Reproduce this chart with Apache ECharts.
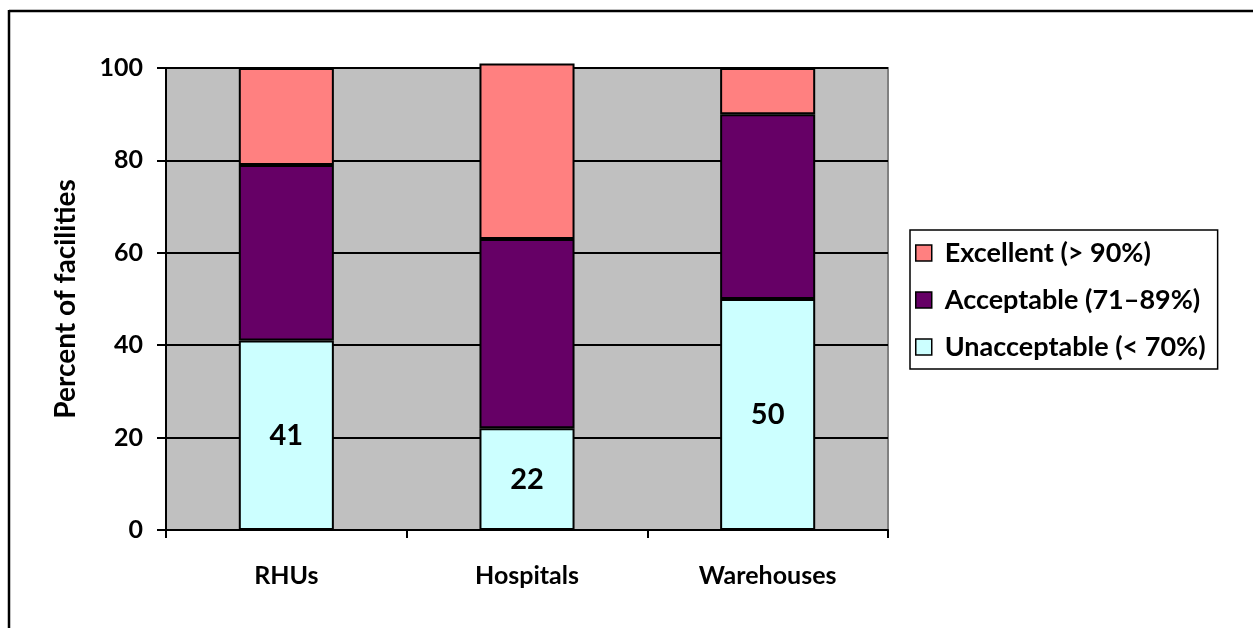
<!DOCTYPE html>
<html>
<head>
<meta charset="utf-8">
<script src="https://cdn.jsdelivr.net/npm/echarts@6/dist/echarts.min.js"></script>
<style>
  html, body { margin: 0; padding: 0; background: #fff; }
  #chart { width: 1253px; height: 628px; }
</style>
</head>
<body>
<div id="chart"></div>
<script>
// Facility types along the x axis
const categories = ['RHUs', 'Hospitals', 'Warehouses'];
// Share of facilities in each score band (percent)
const unacceptable = [41, 22, 50];
const acceptable = [38, 41, 40];
const excellent = [21, 38, 10];
// Y axis ticks
const yTicks = [0, 20, 40, 60, 80, 100];

const FONT = 'Lato, "Open Sans", sans-serif';

const chart = echarts.init(document.getElementById('chart'));

const barCommon = {
  type: 'bar',
  stack: 'total',
  barWidth: '39.5%',
  clip: false
};

chart.setOption({
  animation: false,
  backgroundColor: '#fff',
  textStyle: { fontFamily: FONT },
  grid: {
    left: 166, right: 365, top: 68, bottom: 98,
    show: true,
    backgroundColor: '#C0C0C0',
    borderColor: '#808080',
    borderWidth: 2
  },
  legend: {
    orient: 'vertical',
    left: 910, top: 230,
    padding: [8, 12, 7, 5],
    itemGap: 17,
    itemWidth: 16, itemHeight: 16,
    icon: 'rect',
    borderColor: '#000', borderWidth: 1.5,
    backgroundColor: '#fff',
    data: ['Excellent (> 90%)', 'Acceptable (71–89%)', 'Unacceptable (< 70%)'],
    textStyle: {
      fontFamily: FONT, fontWeight: 'bold', fontSize: 27, lineHeight: 30,
      color: '#000', padding: [0, 0, 0, 8]
    },
    itemStyle: { borderColor: '#000', borderWidth: 1.5 }
  },
  xAxis: {
    type: 'category',
    data: categories,
    boundaryGap: true,
    axisLine: { lineStyle: { color: '#000', width: 2 } },
    axisTick: { show: true, length: 8, inside: false, lineStyle: { color: '#000', width: 2 } },
    axisLabel: { color: '#000', fontFamily: FONT, fontWeight: 'bold', fontSize: 25, margin: 33 }
  },
  yAxis: {
    type: 'value',
    min: yTicks[0], max: yTicks[yTicks.length - 1], interval: 20,
    name: 'Percent of facilities',
    nameLocation: 'middle',
    nameGap: 86,
    nameTextStyle: { color: '#000', fontFamily: FONT, fontWeight: 'bold', fontSize: 28 },
    axisLine: { show: true, lineStyle: { color: '#000', width: 2 } },
    axisTick: { show: true, length: 9, lineStyle: { color: '#000', width: 2 } },
    axisLabel: { color: '#000', fontFamily: FONT, fontWeight: 'bold', fontSize: 25, margin: 23 },
    splitLine: { show: true, lineStyle: { color: '#000', width: 2 } }
  },
  series: [
    Object.assign({}, barCommon, {
      name: 'Unacceptable (< 70%)',
      data: unacceptable,
      itemStyle: { color: '#CCFFFF', borderColor: '#000', borderWidth: 2 },
      label: { show: true, position: 'inside', color: '#000', fontFamily: FONT, fontWeight: 'bold', fontSize: 29 }
    }),
    Object.assign({}, barCommon, {
      name: 'Acceptable (71–89%)',
      data: acceptable,
      itemStyle: { color: '#660066', borderColor: '#000', borderWidth: 2 }
    }),
    Object.assign({}, barCommon, {
      name: 'Excellent (> 90%)',
      data: excellent,
      itemStyle: { color: '#FF8080', borderColor: '#000', borderWidth: 2 }
    })
  ],
  graphic: [
    { type: 'line', shape: { x1: 9, y1: 11, x2: 1253, y2: 11 }, style: { stroke: '#000', lineWidth: 2.5 } },
    { type: 'line', shape: { x1: 9, y1: 10, x2: 9, y2: 628 }, style: { stroke: '#000', lineWidth: 2.5 } }
  ]
});
</script>
</body>
</html>
